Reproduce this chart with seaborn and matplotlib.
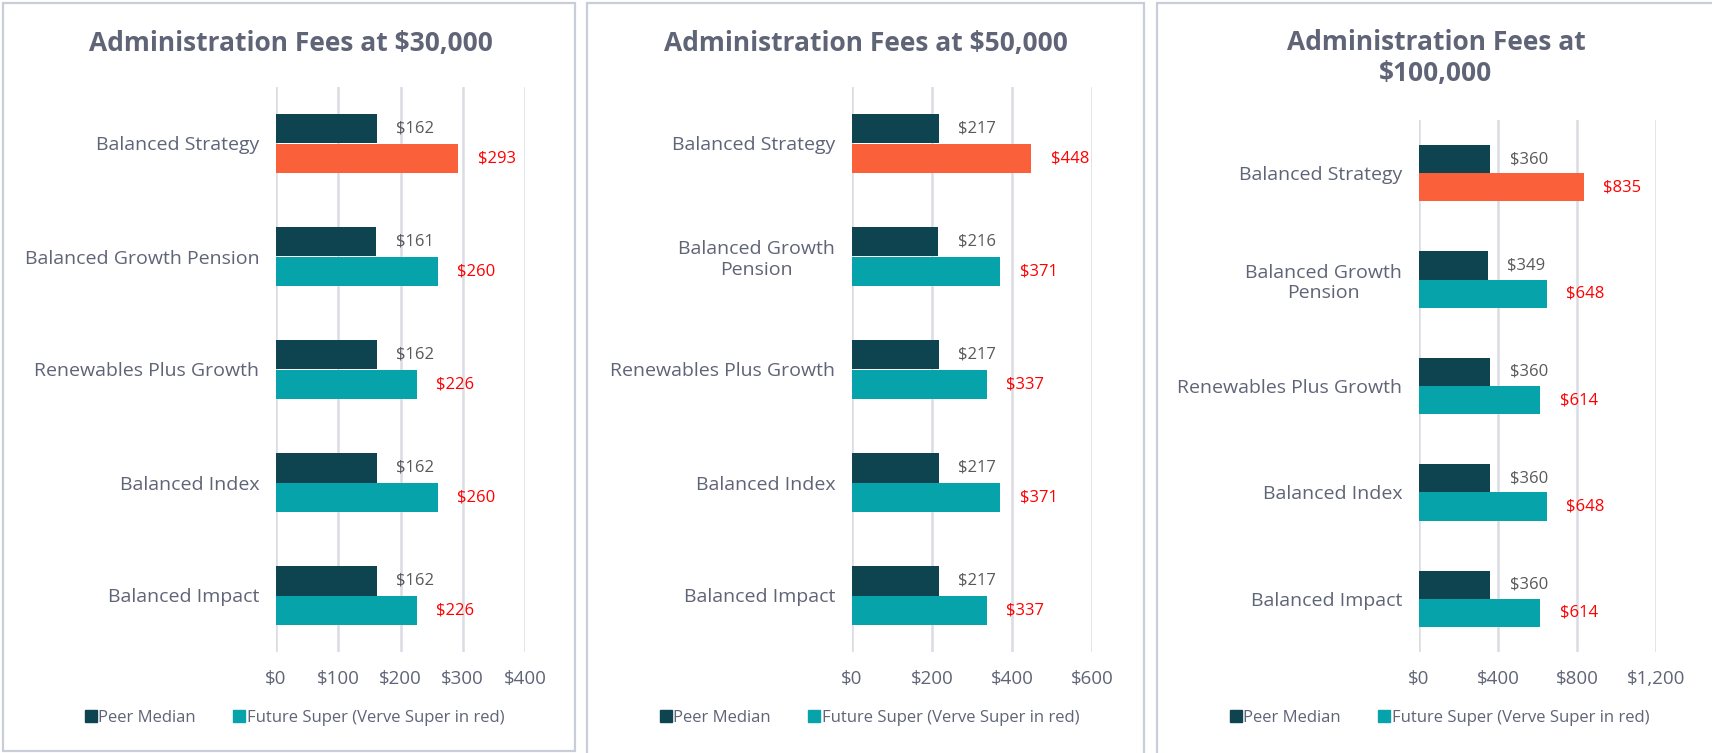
import pandas as pd
import numpy as np
import matplotlib.pyplot as plt
import seaborn as sns
from matplotlib.lines import Line2D
from matplotlib.patches import Rectangle
from matplotlib.ticker import FuncFormatter

funds = ['Balanced Strategy', 'Balanced Growth Pension', 'Renewables Plus Growth',
         'Balanced Index', 'Balanced Impact']
funds_wrapped = ['Balanced Strategy', 'Balanced Growth\nPension', 'Renewables Plus Growth',
                 'Balanced Index', 'Balanced Impact']

titles = ['Administration Fees at $30,000', 'Administration Fees at $50,000',
          'Administration Fees at\n$100,000']

peer_30k = [162, 161, 162, 162, 162]
future_30k = [293, 260, 226, 260, 226]
peer_50k = [217, 216, 217, 217, 217]
future_50k = [448, 371, 337, 371, 337]
peer_100k = [360, 349, 360, 360, 360]
future_100k = [835, 648, 614, 648, 614]

xticks_30k = [0, 100, 200, 300, 400]
xticks_50k = [0, 200, 400, 600]
xticks_100k = [0, 400, 800, 1200]

series_names = ['Peer Median', 'Future Super (Verve Super in red)']
peer_color = '#0E4450'
future_color = '#06A4AA'
verve_color = '#FA613A'
text_color = '#5F6477'
border_color = '#C9CCD9'
grid_color = '#DADCE2'

sns.set_theme(style='white')
plt.rcParams['font.family'] = ['Open Sans', 'DejaVu Sans']

W, H = 1712, 753
fig = plt.figure(figsize=(W / 100, H / 100), dpi=100)


def px_axes(l, t, r, b):
    return fig.add_axes([l / W, 1 - b / H, (r - l) / W, (b - t) / H])


panels = [
    dict(peer=peer_30k, future=future_30k, ticks=xticks_30k, labels=funds,
         box=(3, 3, 575, 751), ax=(276, 87, 525, 652), title_x=291, title_y=43, legend_x=294),
    dict(peer=peer_50k, future=future_50k, ticks=xticks_50k, labels=funds_wrapped,
         box=(587, 3, 1144, 770), ax=(852, 87, 1092, 652), title_x=866, title_y=43, legend_x=869),
    dict(peer=peer_100k, future=future_100k, ticks=xticks_100k, labels=funds_wrapped,
         box=(1157, 3, 1730, 770), ax=(1419, 120, 1656, 652), title_x=1436, title_y=58, legend_x=1439),
]

for p, title in zip(panels, titles):
    # panel frame
    bl, bt, br, bb = p['box']
    fig.patches.append(Rectangle((bl / W, 1 - bb / H), (br - bl) / W, (bb - bt) / H,
                                 transform=fig.transFigure, fill=False,
                                 edgecolor=border_color, linewidth=1.6, zorder=0))

    ax = px_axes(*p['ax'])
    df = pd.DataFrame({
        'fund': funds * 2,
        'fee': p['peer'] + p['future'],
        'series': [series_names[0]] * 5 + [series_names[1]] * 5,
    })
    sns.barplot(data=df, y='fund', x='fee', hue='series', orient='h',
                palette=[peer_color, future_color], width=0.53, legend=False,
                saturation=1, linewidth=0, ax=ax, zorder=3)
    ax.containers[1].patches[0].set_facecolor(verve_color)

    ax.bar_label(ax.containers[0], labels=[f'${v:,}' for v in p['peer']],
                 padding=14, color='#595959', fontsize=12)
    ax.bar_label(ax.containers[1], labels=[f'${v:,}' for v in p['future']],
                 padding=14, color='#FF0000', fontsize=12)

    ax.set_xlim(0, p['ticks'][-1])
    ax.set_ylim(4.5, -0.5)
    ax.set_xticks(p['ticks'])
    ax.xaxis.set_major_formatter(FuncFormatter(lambda v, _: f'${v:,.0f}'))
    ax.set_yticks(range(5))
    ax.set_yticklabels(p['labels'], multialignment='center')
    ax.tick_params(axis='x', length=0, pad=13, labelsize=13.5, labelcolor=text_color)
    ax.tick_params(axis='y', length=0, pad=12, labelsize=14, labelcolor=text_color)
    ax.set_xlabel('')
    ax.set_ylabel('')
    ax.grid(axis='x', color=grid_color, linewidth=1.8, zorder=0)
    ax.grid(axis='y', visible=False)
    for s in ax.spines.values():
        s.set_visible(False)
    ax.set_facecolor('none')

    fig.text(p['title_x'] / W, 1 - p['title_y'] / H, title,
             ha='center', va='center', fontsize=19, fontweight='bold',
             color=text_color, linespacing=1.2)

    handles = [Line2D([], [], marker='s', linestyle='', markersize=8, color=c)
               for c in [peer_color, future_color]]
    fig.legend(handles, series_names, loc='center', ncol=2,
               bbox_to_anchor=(p['legend_x'] / W, 1 - 718 / H), frameon=False,
               handletextpad=0.05, columnspacing=2.2, handlelength=0.8,
               labelcolor=text_color, fontsize=12)

fig.savefig('out.png', dpi=100)
